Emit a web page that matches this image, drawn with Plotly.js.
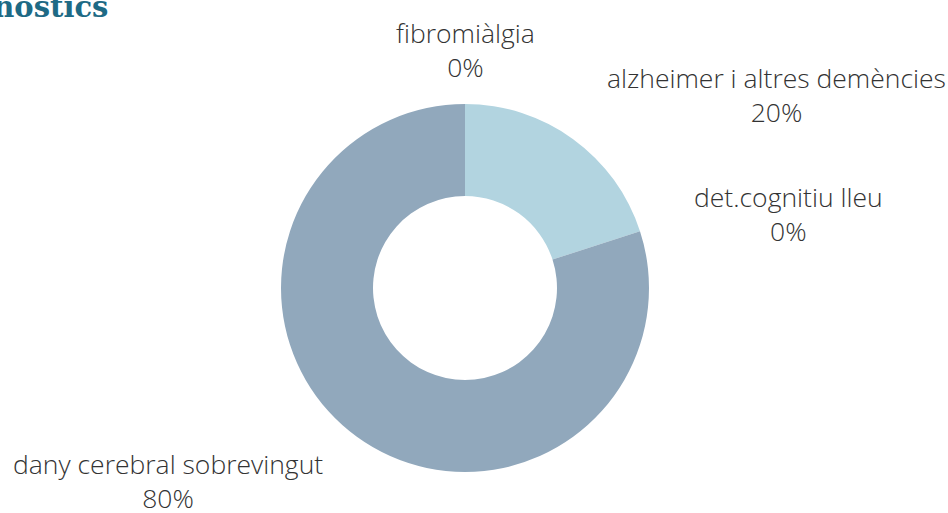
<!DOCTYPE html>
<html>
<head>
<meta charset="utf-8">
<script src="https://cdn.plot.ly/plotly-3.0.1.min.js"></script>
<style>html,body{margin:0;padding:0;background:#fff;}</style>
</head>
<body>
<div id="chart" style="width:948px;height:513px;"></div>
<script>
const labels = ['fibromiàlgia', 'alzheimer i altres demències', 'det.cognitiu lleu', 'dany cerebral sobrevingut'];
const values = [0, 20, 0, 80];
const colors = ['#b2d4e0', '#b2d4e0', '#91a8bc', '#91a8bc'];
const titleText = 'Diagnòstics';

const W = 948, H = 513;
const margin = {l: 0, r: 18, t: 104, b: 41};
const plotW = W - margin.l - margin.r;
const plotH = H - margin.t - margin.b;
const radiusPx = Math.min(plotW, plotH) / 2;
const labelDist = radiusPx * 1.295;

const total = values.reduce((a, b) => a + b, 0);
const labelAnnotations = [];
let cum = 0;
values.forEach((v, i) => {
  const mid = (cum + v / 2) / total * 2 * Math.PI;
  cum += v;
  const s = Math.sin(mid), c = Math.cos(mid);
  const dx = labelDist * s, dy = labelDist * c;
  let xanchor = 'center';
  if (s > 0.1) xanchor = 'left';
  else if (s < -0.1) xanchor = 'right';
  labelAnnotations.push({
    text: labels[i] + '<br>' + Math.round(v / total * 100) + '%',
    xref: 'paper', yref: 'paper',
    x: 0.5 + dx / plotW, y: 0.5 + dy / plotH,
    xanchor: xanchor, yanchor: 'middle', align: 'center',
    showarrow: false,
    font: {family: 'Open Sans', size: 26.5, color: '#333333', weight: 300}
  });
});

const data = [{
  type: 'pie',
  labels: labels,
  values: values,
  hole: 0.5,
  sort: false,
  direction: 'clockwise',
  rotation: 0,
  marker: {colors: colors, line: {width: 0}},
  textinfo: 'none',
  showlegend: false,
  hoverinfo: 'none'
}];

const layout = {
  width: W, height: H,
  margin: margin,
  paper_bgcolor: '#ffffff',
  showlegend: false,
  annotations: [{
    text: '<b>' + titleText + '</b>',
    xref: 'paper', yref: 'paper',
    x: 110 / plotW, xanchor: 'right',
    y: 1 + (margin.t - 7) / plotH, yanchor: 'middle',
    showarrow: false,
    font: {family: 'DejaVu Serif', size: 29, color: '#1e6a85'}
  }].concat(labelAnnotations)
};

Plotly.newPlot('chart', data, layout, {displayModeBar: false, staticPlot: true});
</script>
</body>
</html>
